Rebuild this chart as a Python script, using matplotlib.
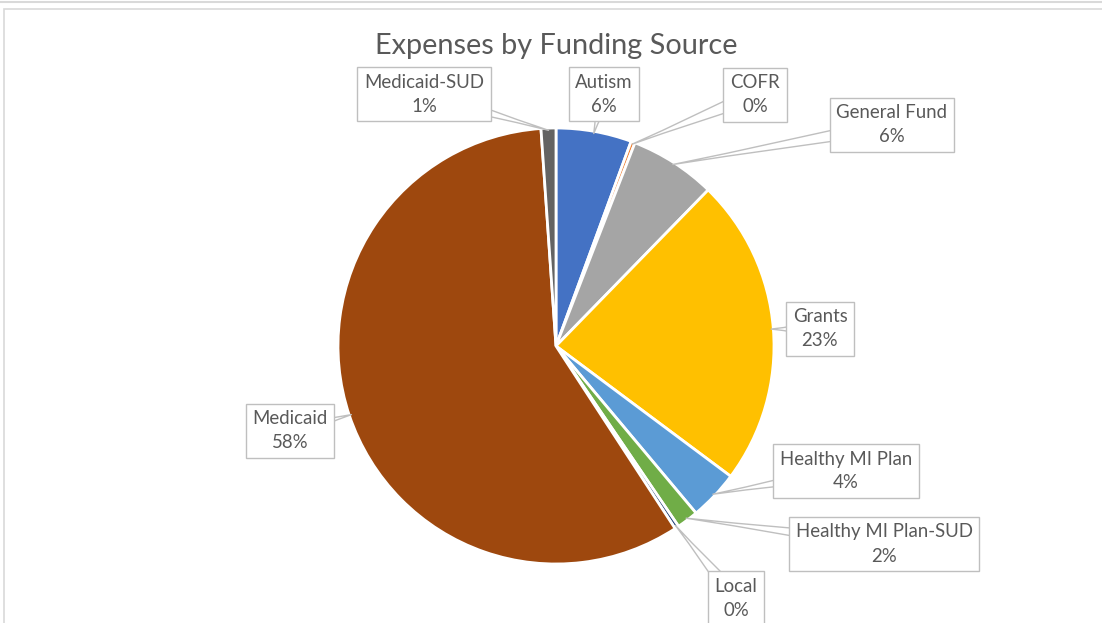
import numpy as np
import matplotlib.pyplot as plt
from matplotlib.patches import Rectangle

# Expense shares by funding source (percent), clockwise from 12 o'clock
sources = ["Autism", "COFR", "General Fund", "Grants", "Healthy MI Plan",
           "Healthy MI Plan-SUD", "Local", "Medicaid", "Medicaid-SUD"]
shares = [5.6, 0.3, 6.4, 22.9, 3.7, 1.6, 0.3, 58.1, 1.1]
colors = ["#4472C4", "#ED7D31", "#A5A5A5", "#FFC000", "#5B9BD5",
          "#70AD47", "#264478", "#9E480E", "#636363"]

# callout box centres (pixels, y measured from the top)
box_xy = [(604, 94), (755, 95), (892, 125), (820, 329), (846, 471),
          (884, 544), (736, 598), (290, 431), (424, 94)]

W, H = 1102, 623
fig = plt.figure(figsize=(W / 100, H / 100), dpi=100)
ax = fig.add_axes([0, 0, 1, 1])

cx, cy, r = 556, H - 346, 218
wedges, _ = ax.pie(shares, colors=colors, startangle=90, counterclock=False,
                   center=(cx, cy), radius=r,
                   wedgeprops=dict(edgecolor="white", linewidth=2))
ax.set_xlim(0, W)
ax.set_ylim(0, H)
ax.set_aspect("equal")
ax.axis("off")

ax.text(556, H - 46, "Expenses by Funding Source", ha="center", va="center",
        fontsize=20.8, color="#595959", family="Lato")

for w, name, v, (bx, by) in zip(wedges, sources, shares, box_xy):
    mid = np.deg2rad((w.theta1 + w.theta2) / 2)
    px = cx + r * 0.99 * np.cos(mid)
    py = cy + r * 0.99 * np.sin(mid)
    ax.annotate(f"{name}\n{v:.0f}%", xy=(px, py), xytext=(bx, H - by),
                ha="center", va="center", fontsize=13.4, color="#595959",
                family="Lato", linespacing=1.5,
                bbox=dict(boxstyle="square,pad=0.36", fc="white",
                          ec="#BFBFBF", lw=1),
                arrowprops=dict(arrowstyle="wedge,tail_width=0.9,shrink_factor=0.4",
                                fc="white", ec="#BFBFBF", lw=1,
                                patchA=None, shrinkA=0, shrinkB=0))

# chart frame
ax.plot([0, W], [H - 2, H - 2], color="#D9D9D9", lw=1.5, clip_on=False)
ax.add_patch(Rectangle((4, -20), W + 20, H - 9 + 20, fill=False,
                       ec="#D9D9D9", lw=1.2, clip_on=False))

fig.savefig("out.png", dpi=100)
